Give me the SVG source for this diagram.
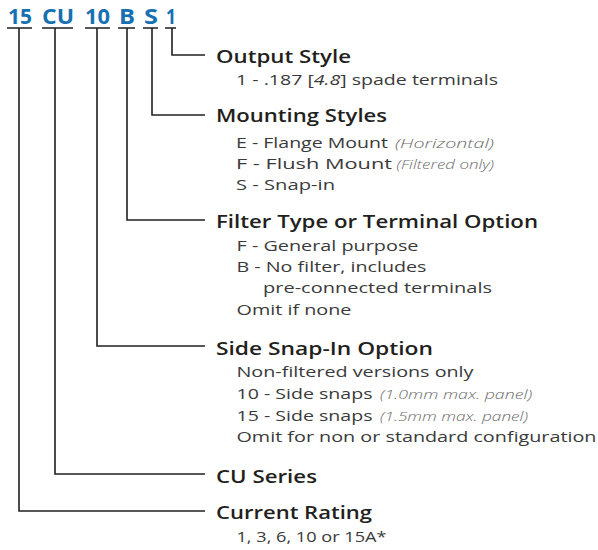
<svg xmlns="http://www.w3.org/2000/svg" width="598" height="550" viewBox="0 0 598 550">
<style>
.code{font-family:"Open Sans","Liberation Sans",sans-serif;font-weight:700;font-size:22px;fill:#1670b2}
.t{font-family:"Open Sans","Liberation Sans",sans-serif;font-weight:600;font-size:18.5px;fill:#231f20}
.s{font-family:"Open Sans","Liberation Sans",sans-serif;font-weight:400;font-size:14.5px;fill:#3a3a3a}
.i{font-family:"Open Sans","Liberation Sans",sans-serif;font-style:italic;font-weight:300;font-size:12px;fill:#6a6a6a}
.ln{fill:none;stroke:#231f20;stroke-width:1.6}
</style>
<rect width="598" height="550" fill="#ffffff"/>
<g id="code">
<text class="code" x="8" y="24" textLength="24" lengthAdjust="spacingAndGlyphs">15</text>
<text class="code" x="42" y="24" textLength="32" lengthAdjust="spacingAndGlyphs">CU</text>
<text class="code" x="85" y="24" textLength="25" lengthAdjust="spacingAndGlyphs">10</text>
<text class="code" x="119" y="24" textLength="16" lengthAdjust="spacingAndGlyphs">B</text>
<text class="code" x="144" y="24" textLength="14" lengthAdjust="spacingAndGlyphs">S</text>
<text class="code" x="166" y="24" textLength="10" lengthAdjust="spacingAndGlyphs">1</text>
</g>
<g id="connectors">
<path class="ln" d="M7 28H32M42 28H73M85 28H110M118 28H135M143 28H158M165 28H176"/>
<polyline class="ln" points="172,28 172,55 205,55"/>
<polyline class="ln" points="152,28 152,115 205,115"/>
<polyline class="ln" points="127,28 127,220 205,220"/>
<polyline class="ln" points="97,28 97,346 205,346"/>
<polyline class="ln" points="55,28 55,474 205,474"/>
<polyline class="ln" points="19,28 19,511 205,511"/>
</g>
<g id="output-style">
<text class="t" x="216" y="63" textLength="135" lengthAdjust="spacingAndGlyphs">Output Style</text>
<text class="s" x="236" y="84.5" textLength="262" lengthAdjust="spacingAndGlyphs">1 - .187 [<tspan font-style="italic">4.8</tspan>] spade terminals</text>
</g>
<g id="mounting-styles">
<text class="t" x="216" y="122" textLength="171" lengthAdjust="spacingAndGlyphs">Mounting Styles</text>
<text class="s" x="236" y="147.5" textLength="152" lengthAdjust="spacingAndGlyphs">E - Flange Mount</text>
<text class="i" x="395" y="147.5" textLength="99" lengthAdjust="spacingAndGlyphs">(Horizontal)</text>
<text class="s" x="236" y="168.5" textLength="156" lengthAdjust="spacingAndGlyphs">F - Flush Mount</text>
<text class="i" x="396.5" y="168.5" textLength="97.5" lengthAdjust="spacingAndGlyphs">(Filtered only)</text>
<text class="s" x="236" y="190" textLength="99" lengthAdjust="spacingAndGlyphs">S - Snap-in</text>
</g>
<g id="filter-type">
<text class="t" x="216" y="228" textLength="322" lengthAdjust="spacingAndGlyphs">Filter Type or Terminal Option</text>
<text class="s" x="236.5" y="250.5" textLength="182" lengthAdjust="spacingAndGlyphs">F - General purpose</text>
<text class="s" x="236.5" y="272" textLength="190" lengthAdjust="spacingAndGlyphs">B - No filter, includes</text>
<text class="s" x="263" y="293" textLength="229" lengthAdjust="spacingAndGlyphs">pre-connected terminals</text>
<text class="s" x="236.5" y="314.5" textLength="115" lengthAdjust="spacingAndGlyphs">Omit if none</text>
</g>
<g id="side-snap-in">
<text class="t" x="216" y="355" textLength="217" lengthAdjust="spacingAndGlyphs">Side Snap-In Option</text>
<text class="s" x="236.5" y="377" textLength="237" lengthAdjust="spacingAndGlyphs">Non-filtered versions only</text>
<text class="s" x="236.5" y="399" textLength="136" lengthAdjust="spacingAndGlyphs">10 - Side snaps</text>
<text class="i" x="380" y="399" textLength="152" lengthAdjust="spacingAndGlyphs">(1.0mm max. panel)</text>
<text class="s" x="236.5" y="420.5" textLength="136" lengthAdjust="spacingAndGlyphs">15 - Side snaps</text>
<text class="i" x="380" y="420.5" textLength="148" lengthAdjust="spacingAndGlyphs">(1.5mm max. panel)</text>
<text class="s" x="236.5" y="442" textLength="360" lengthAdjust="spacingAndGlyphs">Omit for non or standard configuration</text>
</g>
<g id="cu-series">
<text class="t" x="216" y="482.5" textLength="101" lengthAdjust="spacingAndGlyphs">CU Series</text>
</g>
<g id="current-rating">
<text class="t" x="216" y="518.5" textLength="156" lengthAdjust="spacingAndGlyphs">Current Rating</text>
<text class="s" x="236.5" y="541.5" textLength="150" lengthAdjust="spacingAndGlyphs">1, 3, 6, 10 or 15A*</text>
</g>
</svg>
